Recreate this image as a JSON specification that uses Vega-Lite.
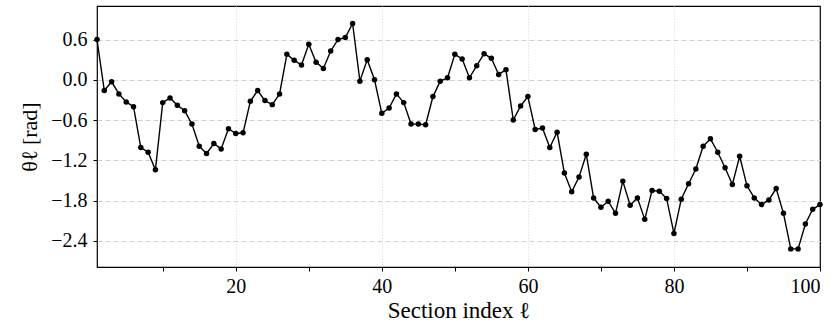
{
  "$schema": "https://vega.github.io/schema/vega-lite/v6.json",
  "width": 723,
  "height": 261,
  "autosize": {"type": "none"},
  "padding": {"left": 97, "top": 6, "right": 15, "bottom": 60},
  "background": "white",
  "config": {
    "view": {"stroke": "black", "strokeWidth": 1.2},
    "font": "Liberation Serif",
    "axis": {
      "labelFont": "Liberation Serif",
      "titleFont": "Liberation Serif",
      "labelColor": "black",
      "titleColor": "black",
      "titleFontWeight": "normal",
      "labelFontSize": 20,
      "titleFontSize": 23,
      "tickColor": "black",
      "tickSize": 4,
      "tickWidth": 1,
      "domain": false
    }
  },
  "data": {
    "values": [
      {"section": 1, "theta": 0.60}, {"section": 2, "theta": -0.16}, {"section": 3, "theta": -0.03},
      {"section": 4, "theta": -0.21}, {"section": 5, "theta": -0.33}, {"section": 6, "theta": -0.40},
      {"section": 7, "theta": -1.01}, {"section": 8, "theta": -1.08}, {"section": 9, "theta": -1.34},
      {"section": 10, "theta": -0.34}, {"section": 11, "theta": -0.27}, {"section": 12, "theta": -0.38},
      {"section": 13, "theta": -0.46}, {"section": 14, "theta": -0.66}, {"section": 15, "theta": -0.99},
      {"section": 16, "theta": -1.10}, {"section": 17, "theta": -0.95}, {"section": 18, "theta": -1.03},
      {"section": 19, "theta": -0.73}, {"section": 20, "theta": -0.80}, {"section": 21, "theta": -0.79},
      {"section": 22, "theta": -0.32}, {"section": 23, "theta": -0.16}, {"section": 24, "theta": -0.31},
      {"section": 25, "theta": -0.37}, {"section": 26, "theta": -0.21}, {"section": 27, "theta": 0.38},
      {"section": 28, "theta": 0.29}, {"section": 29, "theta": 0.22}, {"section": 30, "theta": 0.53},
      {"section": 31, "theta": 0.26}, {"section": 32, "theta": 0.17}, {"section": 33, "theta": 0.43},
      {"section": 34, "theta": 0.60}, {"section": 35, "theta": 0.63}, {"section": 36, "theta": 0.84},
      {"section": 37, "theta": -0.02}, {"section": 38, "theta": 0.30}, {"section": 39, "theta": 0.00},
      {"section": 40, "theta": -0.50}, {"section": 41, "theta": -0.42}, {"section": 42, "theta": -0.21},
      {"section": 43, "theta": -0.34}, {"section": 44, "theta": -0.66}, {"section": 45, "theta": -0.66},
      {"section": 46, "theta": -0.67}, {"section": 47, "theta": -0.25}, {"section": 48, "theta": -0.02},
      {"section": 49, "theta": 0.03}, {"section": 50, "theta": 0.38}, {"section": 51, "theta": 0.31},
      {"section": 52, "theta": 0.03}, {"section": 53, "theta": 0.21}, {"section": 54, "theta": 0.39},
      {"section": 55, "theta": 0.32}, {"section": 56, "theta": 0.08}, {"section": 57, "theta": 0.15},
      {"section": 58, "theta": -0.60}, {"section": 59, "theta": -0.39}, {"section": 60, "theta": -0.25},
      {"section": 61, "theta": -0.74}, {"section": 62, "theta": -0.72}, {"section": 63, "theta": -1.01},
      {"section": 64, "theta": -0.78}, {"section": 65, "theta": -1.39}, {"section": 66, "theta": -1.67},
      {"section": 67, "theta": -1.45}, {"section": 68, "theta": -1.11}, {"section": 69, "theta": -1.76},
      {"section": 70, "theta": -1.90}, {"section": 71, "theta": -1.81}, {"section": 72, "theta": -1.99},
      {"section": 73, "theta": -1.51}, {"section": 74, "theta": -1.87}, {"section": 75, "theta": -1.76},
      {"section": 76, "theta": -2.08}, {"section": 77, "theta": -1.65}, {"section": 78, "theta": -1.66},
      {"section": 79, "theta": -1.77}, {"section": 80, "theta": -2.29}, {"section": 81, "theta": -1.78},
      {"section": 82, "theta": -1.55}, {"section": 83, "theta": -1.33}, {"section": 84, "theta": -0.99},
      {"section": 85, "theta": -0.88}, {"section": 86, "theta": -1.08}, {"section": 87, "theta": -1.31},
      {"section": 88, "theta": -1.56}, {"section": 89, "theta": -1.14}, {"section": 90, "theta": -1.58},
      {"section": 91, "theta": -1.76}, {"section": 92, "theta": -1.86}, {"section": 93, "theta": -1.79},
      {"section": 94, "theta": -1.62}, {"section": 95, "theta": -1.99}, {"section": 96, "theta": -2.52},
      {"section": 97, "theta": -2.52}, {"section": 98, "theta": -2.15}, {"section": 99, "theta": -1.93},
      {"section": 100, "theta": -1.86}
    ]
  },
  "encoding": {
    "x": {
      "field": "section",
      "type": "quantitative",
      "scale": {"domain": [1, 100], "nice": false, "zero": false},
      "axis": {
        "title": "Section index ℓ",
        "values": [10, 20, 30, 40, 50, 60, 70, 80, 90, 100],
        "format": "d",
        "labelExpr": "datum.value % 20 === 0 ? datum.label : ''",
        "labelPadding": 5,
        "titlePadding": 3,
        "grid": true,
        "gridColor": "#e3e3e3",
        "gridDash": [1.5, 1.5],
        "gridWidth": 1,
        "gridOpacity": {"condition": {"test": "datum.value % 20 === 0 && datum.value < 100", "value": 1}, "value": 0}
      }
    },
    "y": {
      "field": "theta",
      "type": "quantitative",
      "scale": {"domain": [-2.79, 1.1], "nice": false, "zero": false},
      "axis": {
        "title": "θℓ [rad]",
        "titleFontSize": 22,
        "values": [-2.4, -1.8, -1.2, -0.6, 0, 0.6],
        "format": ".1f",
        "labelPadding": 6,
        "titlePadding": 9,
        "grid": true,
        "gridColor": "#d0d0d0",
        "gridDash": [5, 3],
        "gridWidth": 1
      }
    }
  },
  "layer": [
    {"mark": {"type": "line", "color": "black", "strokeWidth": 1.4}},
    {"mark": {"type": "circle", "color": "black", "size": 30, "opacity": 1}}
  ]
}
